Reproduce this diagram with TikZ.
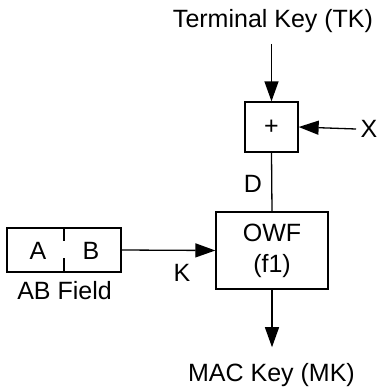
\documentclass[tikz,border=0pt]{standalone}
\usepackage{fontspec}
\setmainfont{Liberation Sans}
\usetikzlibrary{arrows.meta}
\begin{document}
\begin{tikzpicture}[x=1pt, y=-1pt, line width=1.3pt, >={Triangle[length=20pt,width=14pt]},
    every node/.style={font=\fontsize{25}{31}\selectfont, inner sep=0pt},
    box/.style={draw, rectangle, align=center}]
        \useasboundingbox (0,0) rectangle (380,389);
        \node[anchor=base] (tk) at (273,27) {Terminal Key (TK)};
        \node[box, minimum width=53pt, minimum height=50pt] (plus) at (271.5,127) {+};
        \node (xk) at (369,129) {X};
        \draw[->] ([yshift=-11pt]tk.south -| plus.north) -- (plus.north); \draw[->] ([xshift=-4pt]xk.west) -- (plus.east);
        \node[box, minimum width=112pt, minimum height=77pt] (owf) at (272,250.5) {OWF\\(f1)};
        \draw (plus.south) -- (owf.north); \node (d) at (253,184) {D};
        \node[box, minimum width=114pt, minimum height=44pt] (ab) at (64,250) {};
        \node (a) at (38,251) {A}; \node (b) at (91,251) {B};
        \draw[dash pattern=on 14pt off 17pt] (ab.north) -- (ab.south);
        \node[anchor=base] (abf) at (64.5,299) {AB Field};
        \draw[->] (ab.east) -- (owf.west); \node (k) at (182,273) {K};
        \node[anchor=base] (mk) at (271.5,381) {MAC Key (MK)};
        \draw[->] (owf.south) -- ([yshift=15pt]mk.north -| owf.south);
\end{tikzpicture}
\end{document}
